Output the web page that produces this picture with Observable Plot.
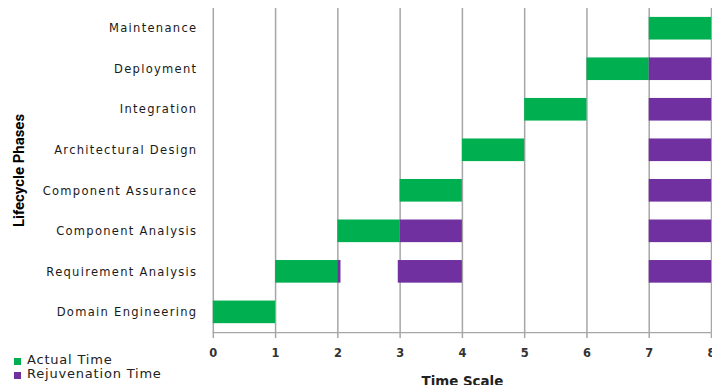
<!DOCTYPE html>
<html>
<head>
<meta charset="utf-8">
<script src="https://cdn.jsdelivr.net/npm/d3@7"></script>
<script src="https://cdn.jsdelivr.net/npm/@observablehq/plot@0.6"></script>
<style>
  html, body { margin: 0; padding: 0; background: #fff; overflow: hidden; }
  #wrap { position: relative; width: 712px; height: 387px; overflow: hidden; }
  #wrap svg [aria-label="y-axis tick label"] text { letter-spacing: 1.3px; }
  #legend { position: absolute; left: 14px; top: 353px; font-family: "DejaVu Sans", sans-serif;
            font-size: 13px; letter-spacing: 0.8px; color: #222; line-height: 14px; }
  #legend .item { display: flex; align-items: center; white-space: nowrap; }
  #legend .sw { width: 7px; height: 7px; margin-right: 6px; margin-top: 3px; }
</style>
</head>
<body>
<div id="wrap"><div id="legend"></div></div>
<script>
// Lifecycle phases, bottom (index 0) to top
const phases = ["Domain Engineering", "Requirement Analysis", "Component Analysis",
  "Component Assurance", "Architectural Design", "Integration", "Deployment", "Maintenance"];

// Actual time spent in each phase (start, end)
const actualStart = [0, 1, 2, 3, 4, 5, 6, 7];
const actualEnd   = [1, 2, 3, 4, 5, 6, 7, 8];

// Rejuvenation periods (phase, start, end)
const rejPhase = ["Requirement Analysis", "Requirement Analysis", "Requirement Analysis",
  "Component Analysis", "Component Analysis", "Component Assurance",
  "Architectural Design", "Integration", "Deployment"];
const rejStart = [2, 2.97, 7, 3, 7, 7, 7, 7, 7];
const rejEnd   = [2.05, 4, 8, 4, 8, 8, 8, 8, 8];

const xTicks = [0, 1, 2, 3, 4, 5, 6, 7, 8];
const seriesNames = ["Actual Time", "Rejuvenation Time"];
const seriesColors = ["#00B050", "#7030A0"];

// Each phase occupies one row of the y scale: [index - 0.5, index + 0.5]
const row = (p) => phases.indexOf(p);
const actual = phases.map((p, i) => ({row: i, start: actualStart[i], end: actualEnd[i]}));
const rejuv = rejPhase.map((p, i) => ({row: row(p), start: rejStart[i], end: rejEnd[i]}));
const rowTicks = phases.map((p, i) => i);

const barStyle = {x1: "start", x2: "end", y1: (d) => d.row - 0.5, y2: (d) => d.row + 0.5,
  insetTop: 9, insetBottom: 9};

const chart = Plot.plot({
  width: 716,
  height: 387,
  marginLeft: 214,
  marginRight: 1,
  marginTop: 8,
  marginBottom: 53,
  style: {fontFamily: "DejaVu Sans, sans-serif", background: "transparent"},
  x: {domain: [0, 8]},
  y: {domain: [-0.5, phases.length - 0.5]},
  marks: [
    Plot.ruleX(xTicks, {stroke: "#a6a6a6", strokeWidth: 1.5}),
    Plot.ruleY([-0.5], {stroke: "#a6a6a6", strokeWidth: 1.5}),
    Plot.rect(actual, {...barStyle, fill: seriesColors[0]}),
    Plot.rect(rejuv, {...barStyle, fill: seriesColors[1]}),
    Plot.axisX({ticks: xTicks, tickSize: 6, tickPadding: 10, stroke: "#a6a6a6", strokeWidth: 1.5,
      strokeOpacity: 1, fill: "#333", fontSize: 11.5, fontWeight: "bold", label: null}),
    Plot.axisY({ticks: rowTicks, tickFormat: (i) => phases[i], tickSize: 0, tickPadding: 16,
      fill: "#1a1a1a", fontSize: 11.6, label: null}),
    Plot.text(["Lifecycle Phases"], {frameAnchor: "left", dx: -195, rotate: -90, textAnchor: "middle",
      fontFamily: "Liberation Sans Narrow, Roboto, sans-serif", fontWeight: "bold", fontSize: 15, fill: "#000"}),
    Plot.text(["Time Scale"], {frameAnchor: "bottom", dy: 44, lineAnchor: "top",
      fontWeight: "bold", fontSize: 13.5, fill: "#222"})
  ]
});
document.getElementById("wrap").prepend(chart);

const legend = d3.select("#legend");
seriesNames.forEach((name, i) => {
  const item = legend.append("div").attr("class", "item");
  item.append("div").attr("class", "sw").style("background", seriesColors[i]);
  item.append("span").text(name);
});
</script>
</body>
</html>
